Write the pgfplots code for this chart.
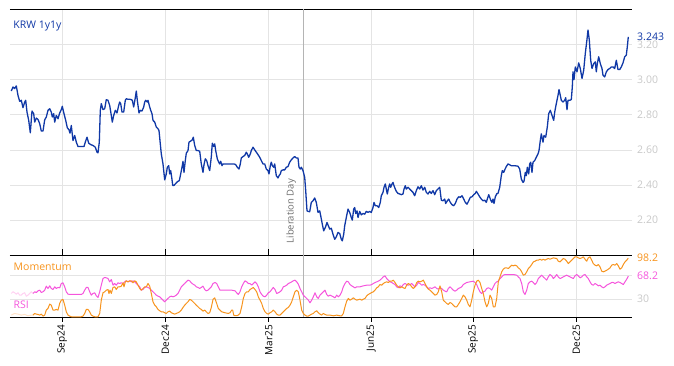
\documentclass[border=0pt]{standalone}
\usepackage{fontspec}
\setmainfont{Open Sans}
\usepackage{pgfplots}
\usepackage{pgfplotstable}
\pgfplotsset{compat=1.18}
\definecolor{krwblue}{RGB}{16,56,166}
\definecolor{momorange}{RGB}{247,148,30}
\definecolor{rsipink}{RGB}{245,85,220}
\definecolor{momfade}{RGB}{255,226,200}
\definecolor{rsifade}{RGB}{255,210,242}
\definecolor{gridgray}{RGB}{228,228,228}
\definecolor{ticklab}{RGB}{200,200,200}
\definecolor{libgray}{RGB}{180,180,180}
\definecolor{libtext}{RGB}{110,110,110}

% x = horizontal chart position (Sep24 tick = 62.3, Dec25 tick = 576.3)
\pgfplotstableread{
x v
11.3 2.935
13 2.958
14.7 2.949
16.3 2.964
18 2.910
19.7 2.876
21.3 2.882
23 2.840
24.7 2.872
25.7 2.882
27 2.815
28.7 2.768
30.3 2.697
32 2.821
33.7 2.806
34.7 2.758
36.3 2.781
38 2.773
39.7 2.749
41.3 2.707
43 2.707
44.7 2.771
46.3 2.787
48 2.825
49.7 2.834
51.3 2.815
52.3 2.787
53.7 2.806
54.7 2.758
56.3 2.796
58 2.777
59.7 2.810
61.3 2.829
62.3 2.848
64 2.806
65.7 2.768
67.3 2.726
69 2.714
70 2.695
71.3 2.739
73 2.653
74.7 2.682
76.3 2.644
78 2.619
81.3 2.619
84 2.619
85.3 2.644
87 2.672
88.7 2.638
90.7 2.630
93 2.625
95.3 2.615
97 2.587
98 2.583
99.3 2.644
100.3 2.825
101.3 2.863
103 2.829
104.7 2.834
106.3 2.886
108 2.882
109.7 2.853
111.3 2.796
112.3 2.758
113.7 2.796
115.3 2.825
117 2.810
118.7 2.853
119.7 2.872
120.7 2.863
122 2.815
123.7 2.815
125.3 2.882
126.3 2.891
128 2.888
129.7 2.888
131.3 2.886
132.3 2.882
133.7 2.844
135.3 2.897
136.3 2.935
137.3 2.882
139 2.810
140.3 2.825
142 2.821
143.7 2.844
144.7 2.872
145.7 2.882
147.3 2.872
148 2.882
149.7 2.844
150.7 2.825
152 2.806
153 2.768
154.7 2.758
156.3 2.730
158 2.720
159 2.710
160.3 2.634
161.3 2.577
163 2.520
164.7 2.429
166.3 2.463
167.3 2.501
168.7 2.510
169.7 2.463
170.7 2.482
171.7 2.444
172.7 2.398
174 2.398
175.3 2.406
176.7 2.415
178 2.421
179.3 2.425
180.7 2.463
182 2.501
183 2.535
184 2.472
185.3 2.539
186.3 2.581
188 2.596
189 2.644
190.7 2.650
192.3 2.657
193.3 2.672
194.7 2.625
196.3 2.596
198 2.596
199.7 2.592
201.3 2.520
203 2.472
204 2.516
205.3 2.549
206.7 2.539
208 2.510
209.7 2.482
211.3 2.560
212.3 2.638
213.7 2.619
214.7 2.634
215.7 2.596
217.3 2.549
218.7 2.530
219.7 2.520
220.7 2.535
222 2.510
223 2.520
224.7 2.520
228 2.520
231.3 2.520
234 2.520
235.7 2.516
237.3 2.501
239 2.491
240.3 2.520
241.3 2.554
243 2.562
244.7 2.568
246.3 2.587
247.3 2.577
248.7 2.558
250.3 2.577
251.3 2.596
253 2.615
254.7 2.600
256.3 2.587
258 2.573
259.7 2.558
261.3 2.539
263 2.520
264.7 2.520
266.3 2.491
268 2.482
269 2.463
270.3 2.510
271.3 2.530
272.3 2.510
273.7 2.501
274.7 2.520
276.3 2.453
278 2.440
279 2.453
280.3 2.463
281.3 2.482
283 2.486
284.7 2.486
286.3 2.501
288 2.505
289.7 2.530
291.3 2.543
293 2.554
294.7 2.562
296.3 2.554
298 2.554
299 2.501
300.3 2.491
301.3 2.501
303 2.482
304.7 2.444
305.7 2.368
307 2.253
308 2.250
309.7 2.248
311.3 2.301
313 2.310
314.7 2.326
316.3 2.301
318 2.244
319.7 2.253
320.7 2.225
322.3 2.177
323.7 2.139
325.3 2.158
327 2.187
328 2.173
329.7 2.149
331.3 2.154
333 2.120
334.7 2.091
336.3 2.105
338 2.130
339.7 2.124
341.3 2.091
342.3 2.082
343.7 2.120
344.7 2.168
346.3 2.215
348 2.263
349.7 2.244
351.3 2.215
352.3 2.200
353.7 2.263
354.7 2.272
355.7 2.238
357 2.253
358 2.215
359.7 2.250
361.3 2.230
363 2.238
364.7 2.234
366.3 2.250
368 2.244
369.7 2.250
371.3 2.244
373 2.272
374 2.301
375.3 2.282
377 2.282
378.7 2.272
380.3 2.301
381.3 2.339
383 2.358
384 2.387
385.3 2.406
386.3 2.377
387.3 2.349
388.7 2.387
389.7 2.406
390.7 2.387
392 2.406
393 2.415
394 2.396
395.3 2.377
396.3 2.364
398 2.352
399.7 2.349
401.3 2.345
403 2.349
404 2.377
405.3 2.396
406.3 2.377
408 2.387
409.7 2.377
411.3 2.368
413 2.358
414.7 2.339
416.3 2.368
418 2.390
419.7 2.377
421.3 2.396
423 2.371
424.7 2.387
426.3 2.358
428 2.349
429.7 2.364
431.3 2.352
433 2.368
434.7 2.345
436.3 2.368
438 2.377
439.7 2.387
441.3 2.314
443 2.310
444.7 2.320
445.7 2.295
447.3 2.310
448.7 2.320
450.3 2.301
452 2.288
453.7 2.282
455.3 2.295
457 2.320
458.7 2.333
460.3 2.330
462 2.339
463.7 2.320
465.3 2.301
467 2.291
468.7 2.310
470.3 2.330
472 2.333
473.7 2.345
475.3 2.352
476.3 2.364
478 2.349
479.7 2.333
481.3 2.320
483 2.310
484.7 2.314
486.3 2.301
487.3 2.320
488.7 2.345
489.7 2.330
490.7 2.314
492 2.301
493 2.320
494 2.295
495.3 2.333
497 2.352
498 2.352
499.7 2.387
501.3 2.453
502.3 2.482
503.7 2.472
504.7 2.486
506.3 2.505
508 2.520
511.3 2.510
514.7 2.510
518 2.507
519.7 2.491
521.3 2.434
523 2.415
524 2.421
525.3 2.472
526.3 2.453
527.3 2.501
528.7 2.463
529.7 2.520
530.7 2.530
532 2.472
533 2.530
534.7 2.539
536.3 2.558
538 2.577
539 2.596
540.3 2.653
541.3 2.691
543 2.644
544 2.682
545.7 2.672
547.3 2.730
548.7 2.806
550.3 2.825
552 2.796
553.7 2.768
554.7 2.815
556.3 2.863
558 2.910
559 2.943
560.3 2.910
561.3 2.882
563 2.872
564.7 2.882
565.7 2.897
567 2.829
568 2.882
569.7 2.882
571.3 2.886
572.3 2.958
573 3.044
574 3.000
575.3 3.072
577 3.044
578.7 3.095
580.3 3.063
582 3.006
583.7 3.053
585.3 3.149
586.7 3.215
588 3.282
589.3 3.225
590.7 3.110
592 3.063
593.7 3.091
595.3 3.101
596.3 3.044
597.3 3.091
598.7 3.130
600.3 3.091
602 3.063
603 3.025
604.7 3.015
606.3 3.044
608 3.057
609.7 3.063
611.3 3.072
613 3.072
614.7 3.063
616.3 3.110
618 3.057
619.7 3.057
621.3 3.072
623 3.095
624.7 3.130
626.3 3.139
627.3 3.187
628.3 3.243
}\krw

\pgfplotstableread{
x v
11.3 39.3
13 42.1
14.7 40.4
16.3 38.2
18 40.4
19.7 36.5
21.3 36.5
23 39.3
24.7 40.4
26.3 34.8
28 36.5
29.7 39.3
31.3 42.1
33 39.3
}\rsifaded

\pgfplotstableread{
x v
33 39.3
34.7 42.1
36.3 40.9
38 43.7
39.7 44.8
41.3 40.9
43 42.1
44.7 44.8
46.3 51.5
48 47.6
49.7 52.1
51.3 47.6
53 45.9
54.7 50.4
56.3 47.6
58 49.3
59.7 48.7
61.3 55.9
63 57.1
64.7 50.4
66.3 42.1
68 38.2
69.7 37.6
73 37.6
78 37.6
81.3 37.6
83 39.3
84.7 44.8
86.3 49.3
88 49.3
89.7 42.1
91.3 36.5
93 39.3
94.7 40.4
96.3 35.4
98 32.6
99.7 42.1
101.3 53.2
103 64.3
104.7 65.9
106.3 65.4
108 64.3
109.7 58.7
111.3 62.6
113 53.2
114.7 55.9
116.3 53.2
118 57.1
119.7 55.9
121.3 57.1
123 55.9
124.7 58.7
126.3 60.4
128 58.7
129.7 60.4
131.3 58.7
133 60.4
134.7 58.7
136.3 55.9
138 53.2
139.7 50.4
141.3 44.8
143 45.9
144.7 49.3
146.3 50.4
148 49.3
149.7 47.6
151.3 44.8
153 42.1
154.7 39.3
156.3 36.5
158 34.8
159.7 33.7
161.3 31.0
163 28.2
164.7 25.4
166.3 28.2
168 31.0
169.7 33.7
171.3 34.8
173 33.7
174.7 34.8
176.3 36.5
178 39.3
179.7 44.8
181.3 50.4
183 53.2
184.7 55.9
186.3 58.7
188 61.5
189.7 60.4
191.3 57.1
193 54.8
194.7 53.2
196.3 50.4
198 49.3
199.7 47.6
201.3 49.3
203 51.5
204.7 45.9
206.3 43.7
208 44.8
209.7 47.6
211.3 50.4
213 55.9
215 57.6
216.7 55.9
218.3 50.4
220 44.8
225 44.8
231.7 44.8
235 43.7
236.7 40.4
238.3 37.6
240 42.1
241.7 50.4
243.3 55.9
245 60.4
246.7 58.7
248.3 55.9
250 55.9
251.7 53.2
253.3 55.9
255 58.7
256.7 55.9
258.3 50.4
260 42.1
261.7 37.6
263.3 34.8
265 33.7
266.7 36.5
268.3 40.4
270 42.1
271.7 45.9
273.3 49.3
275 45.9
276.7 39.3
278.3 40.4
280 42.1
281.7 44.8
283.3 50.4
285 51.5
286.7 53.2
288.3 55.9
290 57.1
291.7 58.7
293.3 60.4
295 61.5
296.7 58.7
298.3 54.8
300 47.6
301.7 42.1
303.3 36.5
305 33.7
306.7 31.0
308.3 28.2
310 23.7
311.7 28.2
313.3 33.7
315 40.4
316.7 33.7
318.3 31.0
320 36.5
321.7 39.3
323.3 42.1
325 44.8
326.7 37.6
328.3 34.8
330 36.5
333.3 33.7
335 32.0
336.7 36.5
338.3 33.7
340 36.5
341.7 42.0
343.3 50.4
345 55.9
346.7 59.8
348.3 58.7
350 54.2
351.7 52.0
353.3 50.4
355 48.7
356.7 50.4
360 50.4
363.3 52.0
366.7 53.1
370 53.1
371.7 54.2
373.3 55.9
376.7 58.7
378.3 59.8
380 61.5
381.7 64.2
383.3 67.0
385 68.7
386.7 64.2
388.3 61.5
390 58.7
391.7 57.6
393.3 55.9
395 54.2
396.7 50.4
398.3 48.7
400 52.0
401.7 50.4
403.3 54.2
405 55.9
406.7 54.2
408.3 53.1
410 54.2
411.7 55.9
413.3 53.1
415 50.4
416.7 53.1
418.3 57.6
420 55.9
421.7 53.1
423.3 54.2
425 53.1
426.7 50.4
428.3 47.6
430 48.7
431.7 47.6
433.3 48.7
435 50.4
436.7 47.6
438.3 46.5
440 48.7
441.7 47.6
443.3 44.8
445 43.1
446.7 42.0
448.3 47.6
450 50.4
451.7 47.6
453.3 44.8
455 43.1
456.7 44.8
458.3 47.6
460 48.7
461.7 50.4
463.3 54.2
465 55.9
466.7 57.6
470 58.7
473.3 59.8
475 57.6
476.7 54.2
478.3 47.6
480 42.0
481.7 39.2
483.3 42.0
485 43.1
486.7 47.6
488.3 48.7
490 47.6
491.7 44.8
493.3 50.4
495 55.9
496.7 58.7
498.3 59.8
500 64.2
501.7 67.0
503.3 69.8
505 70.9
510 70.9
513.3 70.9
516.7 69.8
518.3 67.0
520 64.2
521.7 55.9
523.3 42.0
525 37.6
526.7 44.8
528.3 55.9
530 58.7
531.7 59.8
533.3 57.6
535 54.2
536.7 57.6
538.3 64.2
540 67.0
541.7 69.8
543.3 67.0
545 64.2
546.7 61.5
548.3 67.0
550 70.9
551.7 68.7
553.3 64.2
555 67.0
556.7 70.9
558.3 67.0
560 64.2
561.7 65.4
563.3 67.0
566.7 69.8
570 67.0
573.3 64.2
575 68.7
576.7 70.9
578.3 68.7
580 65.4
581.7 67.0
583.3 69.8
585 70.9
586.7 67.0
588.3 64.2
590 58.7
591.7 54.2
593.3 53.1
595 55.9
596.7 54.2
598.3 52.0
600 53.1
601.7 50.4
603.3 48.7
605 50.4
606.7 53.1
610 55.9
611.7 57.6
613.3 57.6
615 55.9
616.7 57.6
618.3 58.7
620 57.6
621.7 55.9
623.3 54.2
625 58.7
626.7 63.1
628.3 68.2
}\rsi

\pgfplotstableread{
x v
11.3 3.2
14.7 5.9
18 4.8
21.3 3.2
24.7 4.3
28 2.1
31.3 3.2
33 3.2
}\momfaded

\pgfplotstableread{
x v
33 3.2
34.7 5.9
36.3 4.8
38 4.3
39.7 3.2
41.3 4.8
43 1.5
44.7 3.2
46.3 11.5
48 14.3
49.7 21.5
51.3 19.8
53 11.5
54.7 11.5
56.3 12.6
58 11.5
59.7 22.6
61.3 28.2
63 29.3
64.7 19.8
66.3 8.7
68 3.2
69.7 1.5
71.3 0.4
81.3 0.4
83 1.5
84.7 5.9
86.3 12.6
88 12.6
89.7 8.7
91.3 3.2
93 1.5
94.7 0.4
98 0.4
99.7 5.9
101.3 28.2
103 40.4
104.7 42.1
106.3 44.8
108 45.9
109 39.3
110 44.8
111.3 39.3
113 49.3
114.7 50.4
116.3 45.9
118 50.4
119.7 50.4
121.3 51.5
123 57.1
124 50.4
125.3 58.7
126.3 60.4
128 58.7
129.7 60.4
131.3 60.4
133 57.1
134.7 60.4
136.3 58.7
138 53.2
139.7 47.6
141.3 44.8
143 47.6
144.7 50.4
146.3 50.4
148 55.9
149.7 51.5
151.3 39.3
153 25.4
154.7 19.8
156.3 17.1
158 12.6
159.7 10.4
161.3 8.7
163 8.7
164.7 7.1
166.3 5.9
168 8.7
169.7 9.8
171.3 7.1
173 5.9
174.7 4.8
176.3 5.9
178 7.1
179.7 8.7
181.3 11.5
183 15.9
184.7 19.8
186.3 22.6
188 25.4
189.7 29.3
191.3 28.2
193 25.4
194.7 22.6
196.3 19.8
198 17.1
199.7 14.3
201.3 12.6
203 9.8
204.7 11.5
206.3 8.7
208 5.9
209.7 7.1
211.3 15.9
213 29.3
214.7 32.1
216.7 22.6
218.3 14.3
220 11.5
221.7 8.7
225 7.1
228.3 5.9
230 7.1
231.7 11.5
232.7 11.5
233.7 3.2
235 2.1
236.7 2.1
238.3 3.2
240 5.9
241.7 17.1
243.3 30.9
245 39.3
246.7 42.1
248.3 42.1
250 45.9
251.7 47.6
253.3 49.3
255 45.9
256.7 42.1
258.3 33.7
260 28.2
261.7 22.6
263.3 14.3
265 8.7
266.7 5.9
268.3 4.8
270 7.1
271.7 8.7
273.3 11.5
275 8.7
276.7 4.8
278.3 3.2
280 3.2
281.7 5.9
283.3 8.7
285 11.5
286.7 14.3
288.3 15.9
290 19.8
291.7 25.4
293.3 33.7
295 42.1
296.7 44.8
298.3 42.1
300 28.2
301.7 11.5
303.3 5.9
305 3.2
306.7 1.5
308.3 1.5
310 3.2
311.7 4.8
313.3 5.9
315 8.7
316.7 10.4
318.3 7.1
320 4.8
321.7 3.2
323.3 5.9
325 4.3
326.7 3.2
328.3 3.2
330 3.1
333.3 2.0
336.7 3.1
340 2.0
341.7 2.0
343.3 5.9
345 17.0
346.7 26.5
348.3 30.9
350 28.1
351.7 29.8
353.3 32.0
355 29.8
356.7 28.1
360 29.8
361.7 28.1
363.3 29.8
365 30.9
366.7 35.4
368.3 37.6
370 39.2
371.7 40.9
373.3 42.0
375 44.8
376.7 48.7
378.3 50.4
380 54.2
381.7 53.1
383.3 55.9
385 57.6
386.7 58.7
388.3 57.6
390 59.8
391.7 59.8
393.3 61.5
395 57.6
396.7 53.1
398.3 50.4
400 48.7
401.7 50.4
403.3 48.7
405 47.6
406.7 53.1
408.3 55.9
410 54.2
411.7 50.4
413.3 47.6
415 50.4
416.7 57.6
418.3 59.8
420 58.7
421.7 59.8
423.3 61.5
425 55.9
426.7 50.4
428.3 46.5
430 44.8
431.7 42.0
433.3 39.2
435 36.5
436.7 37.6
438.3 42.0
440 52.0
441.7 42.0
443.3 28.1
445 25.4
446.7 22.6
448.3 20.9
450 24.3
451.7 22.6
453.3 19.8
455 17.0
456.7 17.0
458.3 20.9
460 25.4
461.7 30.9
463.3 36.5
465 33.7
466.7 28.1
468.3 20.9
470 17.0
471.7 28.1
473.3 42.0
475 53.1
476.7 59.8
478.3 61.5
480 57.6
481.7 47.6
483.3 39.2
485 25.4
486.7 17.0
488.3 22.6
490 36.5
491.7 30.9
493.3 17.0
495 17.0
496.7 30.9
498.3 58.7
500 67.0
501.7 75.4
503.3 79.8
505 82.0
506.7 82.0
508.3 80.9
510 83.7
511.7 86.5
513.3 85.4
515 86.5
516.7 85.4
518.3 82.0
520 79.8
521.7 75.4
523.3 69.8
525 70.9
526.7 75.4
528.3 80.9
530 83.7
531.7 87.6
533.3 92.0
535 93.1
536.7 94.8
538.3 94.8
540 96.5
541.7 94.8
543.3 96.5
545 94.8
546.7 96.5
548.3 97.6
550 96.5
553.3 98.7
556.7 97.6
558.3 93.1
560 92.0
561.7 94.8
563.3 97.6
565 96.5
566.7 93.1
568.3 89.2
570 92.0
571.7 94.8
573.3 97.6
575 100.4
576.7 100.4
578.3 98.7
580 97.6
581.7 98.7
583.3 100.4
585 96.5
586.7 93.1
588.3 98.7
590 100.4
591.7 94.8
593.3 89.2
595 86.5
596.7 85.4
598.3 87.6
600 83.7
601.7 76.5
603.3 75.4
605 76.5
606.7 78.1
608.3 79.8
610 82.0
611.7 86.5
613.3 87.6
615 86.5
616.7 89.2
618.3 85.4
620 79.8
621.7 82.0
623.3 87.6
625 92.0
626.7 94.8
628.3 98.2
}\mom

\pgfplotsset{
  common/.style={
    scale only axis, width=621.5pt,
    xmin=10, xmax=631.5,
    xtick={62.3,165.3,268.7,371.3,473.3,576.3},
    separate axis lines,
    axis x line*=box, axis y line*=right,
    y axis line style={draw=none},
    x axis line style={black, line width=0.9pt},
    xtick pos=bottom,
    x tick style={black, line width=0.9pt},
    ytick style={draw=none},
    grid=major, major grid style={gridgray, line width=0.7pt},
    /pgf/number format/assume math mode=true,
    yticklabel style={font=\fontsize{10.5}{12}\selectfont, text=ticklab, inner sep=0pt, anchor=west},
    yticklabel shift=5.5pt,
    clip=false,
  }
}

\begin{document}
\begin{tikzpicture}[x=1pt,y=1pt]
% ---------- main panel ----------
\begin{axis}[common,
  at={(10pt,110.7pt)}, anchor=south west, height=246pt,
  ymin=2.0, ymax=3.4,
  ytick={2.2,2.4,2.6,2.8,3.0,3.2},
  /pgf/number format/fixed,
  /pgf/number format/fixed zerofill,
  /pgf/number format/precision=2,
  xticklabels={}, xtick align=inside, major tick length=6pt,
  extra y ticks={3.243}, extra y tick labels={3.243},
  extra y tick style={grid=none, yticklabel style={text=krwblue}},
]
\draw[libgray, line width=0.8pt] (axis cs:303.3,2.0) -- (axis cs:303.3,3.4);
\addplot[krwblue, line width=1.3pt, line join=round] table[x=x,y=v] {\krw};
\node[anchor=base west, inner sep=0pt, text=krwblue, font=\fontsize{10.5}{12}\selectfont] at (axis cs:13.3,3.288) {KRW 1y1y};
\node[rotate=90, anchor=south west, inner sep=0pt, text=libtext, font=\fontsize{9.5}{11}\selectfont] at (axis cs:296,2.067) {Liberation Day};
\end{axis}
% ---------- indicator panel ----------
\begin{axis}[common,
  at={(10pt,49pt)}, anchor=south west, height=61.7pt,
  ymin=0, ymax=103,
  ytick={30,70}, yticklabels={30,},
  xticklabels={Sep24,Dec24,Mar25,Jun25,Sep25,Dec25},
  xtick align=outside, major tick length=5pt,
  xticklabel style={rotate=90, anchor=east, inner sep=0pt, font=\fontsize{10}{12}\selectfont, text=black},
  xticklabel shift=3pt,
]
\draw[libgray, line width=0.8pt] (axis cs:303.3,0) -- (axis cs:303.3,103);
\addplot[rsifade, line width=1.0pt] table[x=x,y=v] {\rsifaded};
\addplot[momfade, line width=1.0pt] table[x=x,y=v] {\momfaded};
\addplot[rsipink, line width=1.0pt, line join=round] table[x=x,y=v] {\rsi};
\addplot[momorange, line width=1.0pt, line join=round] table[x=x,y=v] {\mom};
\node[anchor=base west, inner sep=0pt, text=momorange, font=\fontsize{10.5}{12}\selectfont] at (axis cs:13.5,76.8) {Momentum};
\node[anchor=base west, inner sep=0pt, text=rsipink, font=\fontsize{10.5}{12}\selectfont] at (axis cs:13.5,13.4) {RSI};
\node[anchor=west, inner sep=0pt, xshift=5.5pt, text=momorange, font=\fontsize{10.5}{12}\selectfont] at (axis cs:631.5,98.2) {98.2};
\node[anchor=west, inner sep=0pt, xshift=5.5pt, text=rsipink, font=\fontsize{10.5}{12}\selectfont] at (axis cs:631.5,68.2) {68.2};
\end{axis}
\pgfresetboundingbox
\useasboundingbox (0,0) rectangle (674,366);
\end{tikzpicture}
\end{document}
